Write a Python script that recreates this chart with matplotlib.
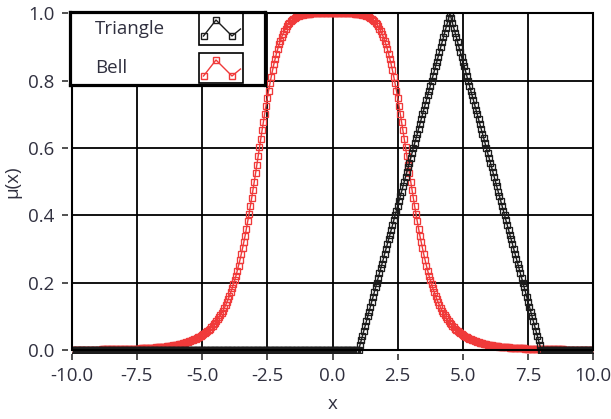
"""Funciones de pertenencia Triangle / Bell (estilo grafico LabVIEW) -> out.png"""

import matplotlib

matplotlib.use("Agg")
import matplotlib.pyplot as plt
import numpy as np
from matplotlib.patches import Rectangle

plt.rcParams["font.family"] = ["Open Sans", "DejaVu Sans"]

# muestreo del eje x: -10 .. 10 en pasos de 0.05
X_MIN, X_MAX, N_SAMPLES = -10.0, 10.0, 401

SERIES_NAMES = ["Triangle", "Bell"]
X_TICKS = [-10.0, -7.5, -5.0, -2.5, 0.0, 2.5, 5.0, 7.5, 10.0]
Y_TICKS = [0.0, 0.2, 0.4, 0.6, 0.8, 1.0]

# Triangle: 0 hasta x=1, sube hasta 1.0 en x=4.5, baja a 0 en x=8
TRI_RISE = [
    0.014, 0.029, 0.043, 0.057, 0.071, 0.086, 0.100, 0.114, 0.129, 0.143,
    0.157, 0.171, 0.186, 0.200, 0.214, 0.229, 0.243, 0.257, 0.271, 0.286,
    0.300, 0.314, 0.329, 0.343, 0.357, 0.371, 0.386, 0.400, 0.414, 0.429,
    0.443, 0.457, 0.471, 0.486, 0.500, 0.514, 0.529, 0.543, 0.557, 0.571,
    0.586, 0.600, 0.614, 0.629, 0.643, 0.657, 0.671, 0.686, 0.700, 0.714,
    0.729, 0.743, 0.757, 0.771, 0.786, 0.800, 0.814, 0.829, 0.843, 0.857,
    0.871, 0.886, 0.900, 0.914, 0.929, 0.943, 0.957, 0.971, 0.986, 1.000,
]
TRI_FALL = [
    0.986, 0.971, 0.957, 0.943, 0.929, 0.914, 0.900, 0.886, 0.871, 0.857,
    0.843, 0.829, 0.814, 0.800, 0.786, 0.771, 0.757, 0.743, 0.729, 0.714,
    0.700, 0.686, 0.671, 0.657, 0.643, 0.629, 0.614, 0.600, 0.586, 0.571,
    0.557, 0.543, 0.529, 0.514, 0.500, 0.486, 0.471, 0.457, 0.443, 0.429,
    0.414, 0.400, 0.386, 0.371, 0.357, 0.343, 0.329, 0.314, 0.300, 0.286,
    0.271, 0.257, 0.243, 0.229, 0.214, 0.200, 0.186, 0.171, 0.157, 0.143,
    0.129, 0.114, 0.100, 0.086, 0.071, 0.057, 0.043, 0.029, 0.014, 0.000,
]
TRIANGLE_MU = [0.0] * 221 + TRI_RISE + TRI_FALL + [0.0] * 40

# Bell: cola izquierda, flanco, meseta, flanco, cola derecha
BELL_TAIL_LEFT = (
    [0.001] * 23 + [0.002] * 15 + [0.003] * 9 + [0.004] * 6 + [0.005] * 5
    + [0.006] * 4 + [0.007] * 3 + [0.008] * 3 + [0.009] * 2 + [0.010] * 3
    + [0.011] + [0.012] * 2 + [0.013] * 2 + [0.014] + [0.015] * 2
)
BELL_SIDE_LEFT = [
    0.016, 0.017, 0.018, 0.019, 0.020, 0.021, 0.022, 0.023, 0.024,
    0.026, 0.027, 0.029, 0.030, 0.032, 0.034, 0.036, 0.038, 0.040, 0.042,
    0.045, 0.047, 0.050, 0.053, 0.056, 0.060, 0.063, 0.067, 0.071, 0.076,
    0.081, 0.086, 0.091, 0.097, 0.103, 0.110, 0.117, 0.125, 0.133, 0.142,
    0.151, 0.161, 0.172, 0.183, 0.195, 0.208, 0.221, 0.236, 0.251, 0.267,
    0.284, 0.302, 0.321, 0.340, 0.361, 0.382, 0.404, 0.427, 0.451, 0.475,
    0.500, 0.525, 0.551, 0.576, 0.602, 0.628, 0.653, 0.678, 0.702, 0.726,
    0.749, 0.771, 0.792, 0.812, 0.831, 0.849, 0.865, 0.881, 0.895, 0.908,
    0.919, 0.930, 0.939, 0.948, 0.955, 0.962, 0.968, 0.973, 0.978, 0.981,
    0.985, 0.987, 0.990, 0.992, 0.993, 0.995, 0.996, 0.997, 0.998, 0.998,
    0.999, 0.999, 0.999, 0.999,
]
BELL_TOP = [1.000] * 33
BELL_SIDE_RIGHT = [
    0.999, 0.999, 0.999, 0.999,
    0.998, 0.998, 0.997, 0.996, 0.995, 0.993, 0.992, 0.990, 0.987, 0.985,
    0.981, 0.978, 0.973, 0.968, 0.962, 0.955, 0.948, 0.939, 0.930, 0.919,
    0.908, 0.895, 0.881, 0.865, 0.849, 0.831, 0.812, 0.792, 0.771, 0.749,
    0.726, 0.702, 0.678, 0.653, 0.628, 0.602, 0.576, 0.551, 0.525, 0.500,
    0.475, 0.451, 0.427, 0.404, 0.382, 0.361, 0.340, 0.321, 0.302, 0.284,
    0.267, 0.251, 0.236, 0.221, 0.208, 0.195, 0.183, 0.172, 0.161, 0.151,
    0.142, 0.133, 0.125, 0.117, 0.110, 0.103, 0.097, 0.091, 0.086, 0.081,
    0.076, 0.071, 0.067, 0.063, 0.060, 0.056, 0.053, 0.050, 0.047, 0.045,
    0.042, 0.040, 0.038, 0.036, 0.034, 0.032, 0.030, 0.029, 0.027, 0.026,
    0.024, 0.023, 0.022, 0.021, 0.020, 0.019, 0.018, 0.017, 0.016,
]
BELL_TAIL_RIGHT = (
    [0.015] * 2 + [0.014] + [0.013] * 2 + [0.012] * 2 + [0.011]
    + [0.010] * 3 + [0.009] * 2 + [0.008] * 3 + [0.007] * 3 + [0.006] * 4
    + [0.005] * 5 + [0.004] * 6 + [0.003] * 9 + [0.002] * 15 + [0.001] * 23
)
BELL_MU = BELL_TAIL_LEFT + BELL_SIDE_LEFT + BELL_TOP + BELL_SIDE_RIGHT + BELL_TAIL_RIGHT

COLORS = ["#1c1c1c", "#f03a3a"]
TEXT_COLOR = "#30303f"
W, H = 611, 419


def draw_legend(fig) -> None:
    # caja de leyenda en pixeles (0..195 x 0..73, y hacia abajo)
    lax = fig.add_axes([70 / W, 1 - 85 / H, 195 / W, 73 / H])
    lax.set_xlim(0, 195)
    lax.set_ylim(73, 0)
    lax.set_xticks([])
    lax.set_yticks([])
    for sp in lax.spines.values():
        sp.set_linewidth(2.3)
        sp.set_color("black")
    rows = [(17, 1, 32), (56, 41, 30)]
    for name, color, (ty, by, bh) in zip(SERIES_NAMES, COLORS, rows):
        lax.text(25, ty, name, fontsize=13.5, color=TEXT_COLOR, va="center")
        lax.add_patch(Rectangle((129, by), 44, bh, fill=False, lw=1.2, ec="black"))
        xs = [129 + 4.5, 129 + 17, 129 + 33, 129 + 41.5]
        ys = [by + 23, by + 7, by + 23, by + 16]
        lax.plot(xs, ys, color=color, lw=1.0, marker="s", ms=4.2,
                 mfc="none", mew=1.0, markevery=[0, 1, 2])


def main() -> None:
    x = np.linspace(X_MIN, X_MAX, N_SAMPLES)
    assert len(TRIANGLE_MU) == N_SAMPLES and len(BELL_MU) == N_SAMPLES

    fig = plt.figure(figsize=(W / 100, H / 100), dpi=100)
    ax = fig.add_axes([71.7 / W, 1 - 350 / H, 521.6 / W, 336.5 / H])

    # zona de recorte algo mas baja que el area, para que la franja en 0 sea gruesa
    clip = Rectangle((0, -0.009), 1, 1.009, transform=ax.transAxes,
                     fill=False, visible=False)
    ax.add_patch(clip)
    for mu, color, z in [(BELL_MU, COLORS[1], 3), (TRIANGLE_MU, COLORS[0], 4)]:
        line, = ax.plot(x, mu, color=color, lw=1.0, marker="s", ms=4.7,
                        mfc="none", mew=0.95, zorder=z)
        line.set_clip_path(clip)

    ax.set_xlim(X_MIN, X_MAX)
    ax.set_ylim(0.0, 1.0)
    ax.set_xticks(X_TICKS)
    ax.set_yticks(Y_TICKS)
    ax.set_xticklabels([f"{t:.1f}" for t in X_TICKS])
    ax.set_yticklabels([f"{t:.1f}" for t in Y_TICKS])
    ax.grid(True, color="black", lw=1.3)
    ax.set_axisbelow(True)

    for side in ["top", "right"]:
        ax.spines[side].set_visible(False)
    for side in ["left", "bottom"]:
        ax.spines[side].set_position(("outward", 3))
        ax.spines[side].set_visible(False)
    ax.add_patch(Rectangle((0, 0), 1, 1, transform=ax.transAxes, fill=False,
                           lw=1.5, ec="black", clip_on=False, zorder=5))
    ax.tick_params(direction="out", length=4.5, width=1.2, color="#333333",
                   labelsize=13.5, labelcolor=TEXT_COLOR, pad=5)

    ax.set_xlabel("x", fontsize=13.5, color=TEXT_COLOR, labelpad=7)
    ax.set_ylabel("μ(x)", fontsize=13.5, color=TEXT_COLOR, labelpad=5)

    draw_legend(fig)
    fig.savefig("out.png", dpi=100)
    plt.close(fig)


if __name__ == "__main__":
    main()
